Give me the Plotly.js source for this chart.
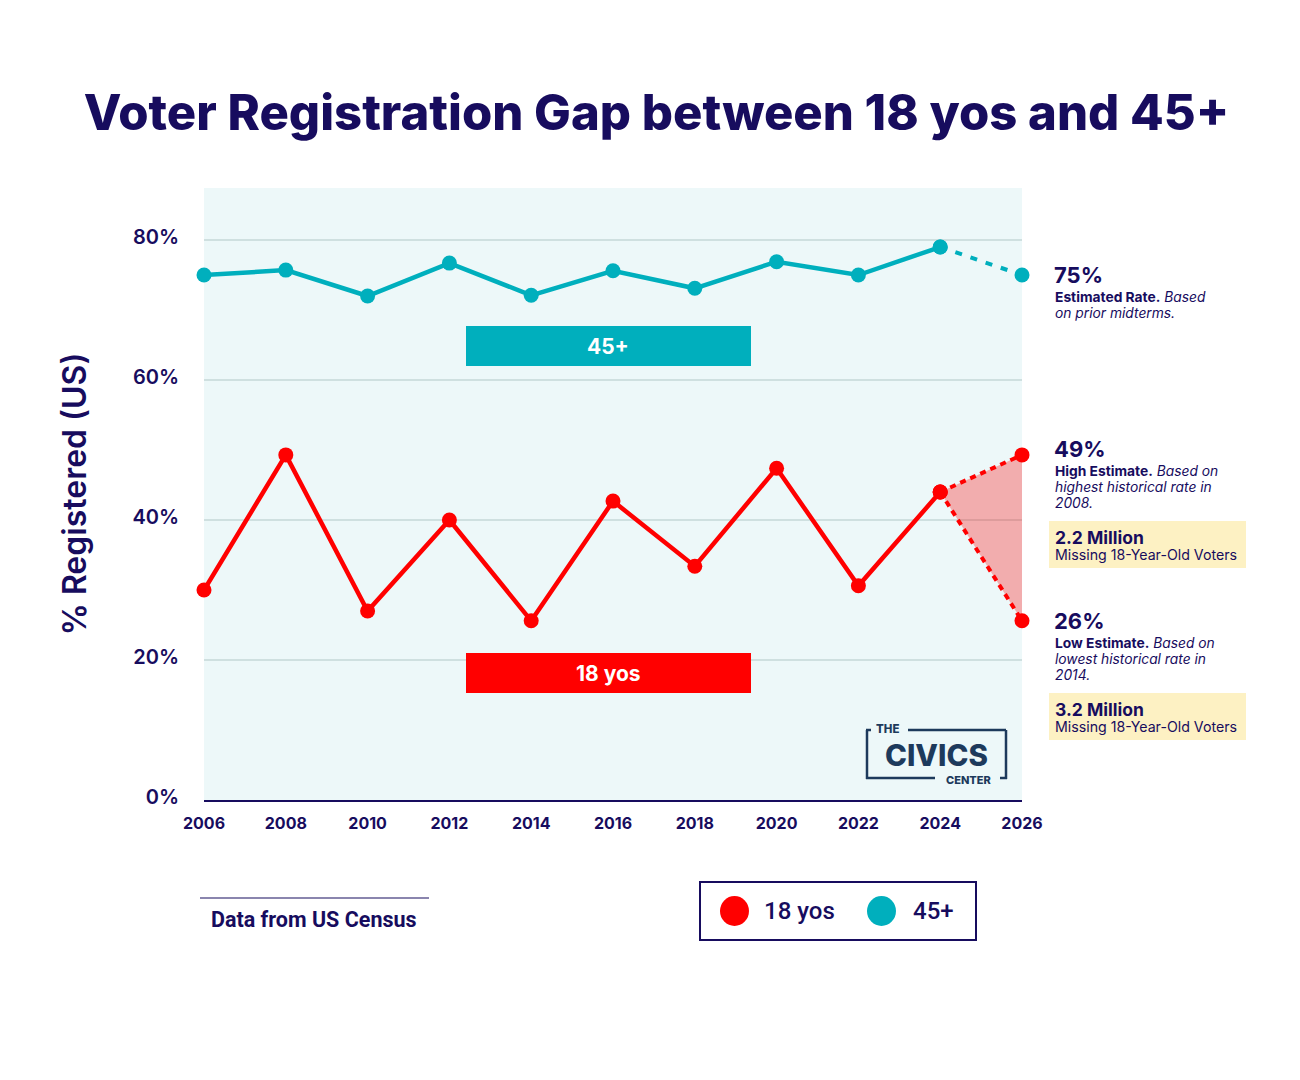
<!DOCTYPE html>
<html>
<head>
<meta charset="utf-8">
<script src="https://cdn.plot.ly/plotly-3.0.1.min.js"></script>
<style>
html,body{margin:0;padding:0;background:#fff;}
#chart{width:1300px;height:1080px;}
</style>
</head>
<body>
<div id="chart"></div>
<script>
// ---- Data ----
const years = [2006, 2008, 2010, 2012, 2014, 2016, 2018, 2020, 2022, 2024];
const youth18 = [30.0, 49.3, 27.0, 40.0, 25.6, 42.7, 33.4, 47.4, 30.6, 44.0];
const older45 = [75.0, 75.7, 72.0, 76.7, 72.1, 75.6, 73.1, 76.9, 75.0, 79.0];
const projYears = [2024, 2026];
const youthHigh = [44.0, 49.3];
const youthLow = [44.0, 25.6];
const olderEst = [79.0, 75.0];
const tickYears = [2006, 2008, 2010, 2012, 2014, 2016, 2018, 2020, 2022, 2024, 2026];
const yTicks = [0, 20, 40, 60, 80];
const yTickLabels = ['0%', '20%', '40%', '60%', '80%'];
const seriesNames = ['18 yos', '45+'];

const NAVY = '#170c5e';
const RED = '#ff0000';
const TEAL = '#00afbd';
const LOGO = '#1d3a5c';
const FONT = 'Inter, "Open Sans", sans-serif';

// pixel -> paper helpers (plot area: x 204..1022, y 188..800)
const L = 204, R = 1022, T = 188, B = 800;
const px = x => (x - L) / (R - L);
const py = y => (B - y) / (B - T);

const traces = [
  // projection fill
  {x: [projYears[0], projYears[1], projYears[1], projYears[0]],
   y: [youthHigh[0], youthHigh[1], youthLow[1], youthLow[0]],
   mode: 'lines', fill: 'toself', fillcolor: 'rgba(255,0,0,0.3)',
   line: {width: 0, color: 'rgba(0,0,0,0)'}, hoverinfo: 'skip', showlegend: false},
  {x: projYears, y: olderEst, mode: 'lines+markers', showlegend: false,
   line: {color: TEAL, width: 4, dash: '7px,9px'}, marker: {color: TEAL, size: 15}},
  {x: projYears, y: youthHigh, mode: 'lines+markers', showlegend: false,
   line: {color: RED, width: 4, dash: '6px,5px'}, marker: {color: RED, size: 15}},
  {x: projYears, y: youthLow, mode: 'lines+markers', showlegend: false,
   line: {color: RED, width: 4, dash: '6px,5px'}, marker: {color: RED, size: 15}},
  {x: years, y: older45, name: seriesNames[1], mode: 'lines+markers', showlegend: false,
   line: {color: TEAL, width: 4.5}, marker: {color: TEAL, size: 15}},
  {x: years, y: youth18, name: seriesNames[0], mode: 'lines+markers', showlegend: false,
   line: {color: RED, width: 4.5}, marker: {color: RED, size: 15}}
];

const shapes = [
  // series label boxes
  {type: 'rect', xref: 'paper', yref: 'paper', x0: px(466), x1: px(751), y0: py(366), y1: py(326),
   fillcolor: TEAL, line: {width: 0}, layer: 'above'},
  {type: 'rect', xref: 'paper', yref: 'paper', x0: px(466), x1: px(751), y0: py(693), y1: py(653),
   fillcolor: RED, line: {width: 0}, layer: 'above'},
  // yellow boxes
  {type: 'rect', xref: 'paper', yref: 'paper', x0: px(1049), x1: px(1246), y0: py(568), y1: py(521),
   fillcolor: '#fdf1c3', line: {width: 0}},
  {type: 'rect', xref: 'paper', yref: 'paper', x0: px(1049), x1: px(1246), y0: py(740), y1: py(693),
   fillcolor: '#fdf1c3', line: {width: 0}},
  // footer line
  {type: 'line', xref: 'paper', yref: 'paper', x0: px(200), x1: px(429), y0: py(898), y1: py(898),
   line: {color: NAVY, width: 1.2}},
  // legend box
  {type: 'rect', xref: 'paper', yref: 'paper', x0: px(700), x1: px(976), y0: py(940), y1: py(882),
   fillcolor: 'rgba(0,0,0,0)', line: {color: NAVY, width: 2}},
  {type: 'circle', xref: 'paper', yref: 'paper', x0: px(720), x1: px(749), y0: py(926), y1: py(896),
   fillcolor: RED, line: {width: 0}},
  {type: 'circle', xref: 'paper', yref: 'paper', x0: px(867), x1: px(896), y0: py(926), y1: py(896),
   fillcolor: TEAL, line: {width: 0}},
  // logo frame
  {type: 'line', xref: 'paper', yref: 'paper', x0: px(867), x1: px(867), y0: py(730), y1: py(779), line: {color: LOGO, width: 2.5}},
  {type: 'line', xref: 'paper', yref: 'paper', x0: px(866), x1: px(871), y0: py(730), y1: py(730), line: {color: LOGO, width: 2.5}},
  {type: 'line', xref: 'paper', yref: 'paper', x0: px(908), x1: px(1006), y0: py(730), y1: py(730), line: {color: LOGO, width: 2.5}},
  {type: 'line', xref: 'paper', yref: 'paper', x0: px(1006), x1: px(1006), y0: py(730), y1: py(779), line: {color: LOGO, width: 2.5}},
  {type: 'line', xref: 'paper', yref: 'paper', x0: px(866), x1: px(935), y0: py(778), y1: py(778), line: {color: LOGO, width: 2.5}},
  {type: 'line', xref: 'paper', yref: 'paper', x0: px(1000), x1: px(1007), y0: py(778), y1: py(778), line: {color: LOGO, width: 2.5}}
];

function ann(text, x, y, opts) {
  return Object.assign({text: text, xref: 'paper', yref: 'paper', x: px(x), y: py(y),
    xanchor: 'left', yanchor: 'middle', showarrow: false, align: 'left',
    font: {family: FONT, size: 13, color: NAVY}}, opts || {});
}
const noteFont = {family: FONT, size: 13.8, color: NAVY};
const bigFont = {family: FONT, size: 22, color: NAVY, weight: 700};

const annotations = [
  ann('45+', 608, 346, {xanchor: 'center', font: {family: FONT, size: 21, color: '#ffffff', weight: 700}}),
  ann('18 yos', 608, 673, {xanchor: 'center', font: {family: FONT, size: 21, color: '#ffffff', weight: 700}}),
  ann('75%', 1052, 275, {font: bigFont}),
  ann('<b>Estimated Rate.</b> <i>Based</i>', 1053, 297, {font: noteFont}),
  ann('<i>on prior midterms.</i>', 1053, 313, {font: noteFont}),
  ann('49%', 1052, 449, {font: bigFont}),
  ann('<b>High Estimate.</b> <i>Based on</i>', 1053, 471, {font: noteFont}),
  ann('<i>highest historical rate in</i>', 1053, 487, {font: noteFont}),
  ann('<i>2008.</i>', 1053, 503, {font: noteFont}),
  ann('26%', 1052, 621, {font: bigFont}),
  ann('<b>Low Estimate.</b> <i>Based on</i>', 1053, 643, {font: noteFont}),
  ann('<i>lowest historical rate in</i>', 1053, 659, {font: noteFont}),
  ann('<i>2014.</i>', 1053, 675, {font: noteFont}),
  ann('2.2 Million', 1053, 537, {font: {family: FONT, size: 17.5, color: NAVY, weight: 700}}),
  ann('Missing 18-Year-Old Voters', 1053, 555, {font: {family: FONT, size: 14.2, color: NAVY}}),
  ann('3.2 Million', 1053, 709, {font: {family: FONT, size: 17.5, color: NAVY, weight: 700}}),
  ann('Missing 18-Year-Old Voters', 1053, 727, {font: {family: FONT, size: 14.2, color: NAVY}}),
  // footer
  ann('Data from US Census', 209, 919, {font: {family: 'Roboto, sans-serif', size: 21.5, color: NAVY, weight: 700}}),
  // legend labels
  ann(seriesNames[0], 762, 911, {font: {family: 'Roboto, sans-serif', size: 24, color: NAVY, weight: 500}}),
  ann(seriesNames[1], 911, 911, {font: {family: 'Roboto, sans-serif', size: 24, color: NAVY, weight: 500}}),
  // logo text
  ann('THE', 875, 729, {font: {family: FONT, size: 11.5, color: LOGO, weight: 800}, borderpad: 0}),
  ann('CIVICS', 936, 755, {xanchor: 'center', font: {family: FONT, size: 29.5, color: LOGO, weight: 800}, borderpad: 0}),
  ann('CENTER', 968, 780, {xanchor: 'center', font: {family: FONT, size: 11, color: LOGO, weight: 800}, borderpad: 0})
];

const layout = {
  width: 1300, height: 1080,
  margin: {l: L, r: 1300 - R, t: T, b: 1080 - B},
  paper_bgcolor: '#ffffff',
  plot_bgcolor: '#edf8f9',
  showlegend: false,
  title: {text: 'Voter Registration Gap between 18 yos and 45+', xref: 'container', yref: 'container',
    x: 0.505, y: 1 - 113 / 1080, xanchor: 'center', yanchor: 'middle',
    font: {family: FONT, size: 49, color: NAVY, weight: 800}},
  xaxis: {range: [2006, 2026], tickvals: tickYears, ticktext: tickYears.map(String),
    showgrid: false, zeroline: false, showline: true, linecolor: NAVY, linewidth: 2,
    ticks: '', ticklabelstandoff: 8,
    tickfont: {family: FONT, size: 16, color: NAVY, weight: 700}, fixedrange: true},
  yaxis: {range: [0, 87.43], tickvals: yTicks, ticktext: yTickLabels,
    showgrid: true, gridcolor: '#cfe0e0', gridwidth: 1.5, zeroline: false, showline: false,
    ticks: '', ticklabelstandoff: 24, ticklabelshift: -3,
    tickfont: {family: FONT, size: 20, color: NAVY, weight: 600},
    title: {text: '% Registered (US)', standoff: 36, font: {family: FONT, size: 32, color: NAVY, weight: 600}},
    fixedrange: true},
  shapes: shapes,
  annotations: annotations
};

traces.forEach(t => t.cliponaxis = false);
Plotly.newPlot('chart', traces, layout, {displayModeBar: false, staticPlot: true});
</script>
</body>
</html>
